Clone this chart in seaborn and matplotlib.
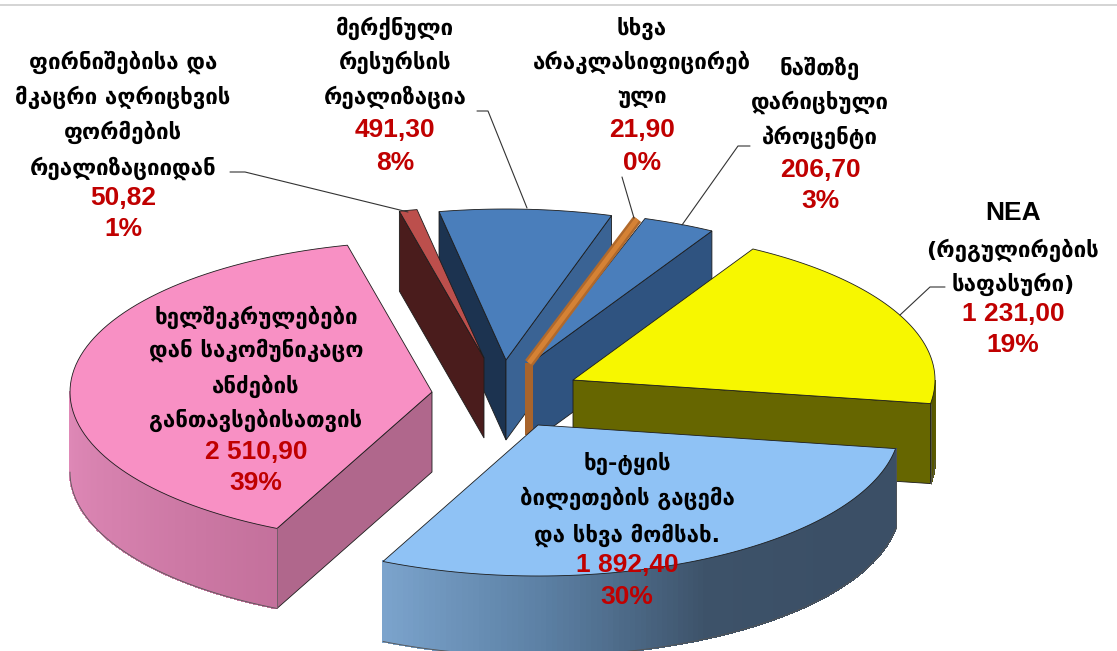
import numpy as np
import matplotlib
matplotlib.use("Agg")
import matplotlib.pyplot as plt
import seaborn as sns

# order is clockwise starting from the yellow slice
names = [
    ["NEA", "(რეგულირების", "საფასური)"],
    ["ხე-ტყის", "ბილეთების გაცემა", "და სხვა მომსახ."],
    ["ხელშეკრულებები", "დან საკომუნიკაცო", "ანძების", "განთავსებისათვის"],
    ["ფირნიშებისა და", "მკაცრი აღრიცხვის", "ფორმების", "რეალიზაციიდან"],
    ["მერქნული", "რესურსის", "რეალიზაცია"],
    ["სხვა", "არაკლასიფიცირებ", "ული"],
    ["ნაშთზე", "დარიცხული", "პროცენტი"],
]
values = [1231.00, 1892.40, 2510.90, 50.82, 491.30, 21.90, 206.70]
value_labels = ["1 231,00", "1 892,40", "2 510,90", "50,82", "491,30", "21,90", "206,70"]
pct_labels = ["19%", "30%", "39%", "1%", "8%", "0%", "3%"]

top_colors = ["#F7F700", "#8FC2F5", "#F890C4", "#BC4F4C", "#4A7EBB", "#D58235", "#4A7EBB"]

# pie geometry in pixels of the picture
R_X, R_Y, DEPTH = 362, 151, 80
START = 60.2
apex = [(573, 380), (538, 425), (432, 392), (484, 358), (506, 360), (525, 363), (532, 362)]

# label layout: x centre and y of each line
label_x = [1013, 627, 256, 123, 395, 642, 820]
label_y = [
    [213, 250, 284, 314, 345],
    [463, 498, 535, 565, 597],
    [317, 350, 386, 420, 452, 483],
    [62, 97, 132, 168, 198, 229],
    [28, 62, 97, 130, 163],
    [28, 62, 98, 130, 163],
    [68, 102, 137, 170, 201],
]
leaders = [
    [(945, 287), (930, 287), (900, 315)],
    [(230, 172), (245, 172), (408, 212)],
    [(477, 111), (488, 111), (527, 208)],
    [(622, 177), (634, 218)],
    [(750, 146), (738, 146), (682, 225)],
]

sns.set_theme(style="white")
plt.rcParams["font.family"] = ["DejaVu Sans"]

fig = plt.figure(figsize=(11.17, 6.51), dpi=100)
ax = fig.add_axes([0, 0, 1, 1])
ax.set_xlim(0, 1117)
ax.set_ylim(651, 0)
ax.axis("off")

EDGE = "#1c1c1c"


def punto(i, ang):
    return (apex[i][0] + R_X * np.cos(np.radians(ang)),
            apex[i][1] - R_Y * np.sin(np.radians(ang)))


def cara(i, ang, color):
    # flat cut face below one radius of the slice
    x0, y0 = apex[i]
    x1, y1 = punto(i, ang)
    ax.fill([x0, x1, x1, x0], [y0, y1, y1 + DEPTH, y0 + DEPTH],
            facecolor=color, edgecolor=EDGE, lw=0.6)


def pared(i, a1, a2, colores):
    # outer curved wall, cut in narrow strips to get the gradient
    angs = np.linspace(a1, a2, 120)
    pal = sns.blend_palette(colores, len(angs) - 1)
    xs, ys = punto(i, angs)
    for k in range(len(angs) - 1):
        ax.fill([xs[k], xs[k + 1], xs[k + 1], xs[k]],
                [ys[k], ys[k + 1], ys[k + 1] + DEPTH, ys[k] + DEPTH],
                facecolor=pal[k], edgecolor=pal[k], lw=0.8, antialiased=False)
    ax.plot(xs, ys + DEPTH, color="#555555", lw=0.6)
    ax.plot([xs[-1], xs[-1]], [ys[-1], ys[-1] + DEPTH], color="#555555", lw=0.5)


def tapa(i, a1, a2, color):
    angs = np.linspace(a1, a2, 80)
    xs, ys = punto(i, angs)
    ax.fill(np.r_[apex[i][0], xs], np.r_[apex[i][1], ys],
            facecolor=color, edgecolor=EDGE, lw=0.6)


spans = np.array(values) / sum(values) * 360
ends = START - np.cumsum(spans)
starts = ends + spans
YEL, BLU, PNK, RED, MID, ORG, SML = range(7)

# back to front
cara(MID, starts[MID], "#1C3350")
cara(MID, ends[MID], "#3A6394")
tapa(MID, starts[MID], ends[MID], top_colors[MID])

cara(RED, starts[RED], "#4A1C1C")
tapa(RED, starts[RED], ends[RED], top_colors[RED])

cara(SML, ends[SML], "#2F5380")
tapa(SML, starts[SML], ends[SML], top_colors[SML])

# the very thin slice: a vertical strip and a band along the radius
x0, y0 = apex[ORG]
xe, ye = punto(ORG, starts[ORG] - spans[ORG] / 2)
ax.fill([x0, x0 + 8, x0 + 8, x0], [y0, y0, y0 + DEPTH - 8, y0 + DEPTH - 8],
        facecolor="#A8642C", edgecolor="none")
ax.plot([x0 + 4, xe + 3], [y0, ye], color="#B0692C", lw=7, solid_capstyle="butt")
ax.plot([x0 + 4, xe + 3], [y0, ye], color=top_colors[ORG], lw=3.5, solid_capstyle="butt")

pared(YEL, 0, ends[YEL], ["#5E5E00", "#555500"])
cara(YEL, ends[YEL], "#666600")
tapa(YEL, starts[YEL], ends[YEL], top_colors[YEL])

cara(PNK, starts[PNK], "#B0678C")
pared(PNK, -180, starts[PNK], ["#E08AB8", "#D47FAC", "#C4719C"])
tapa(PNK, starts[PNK], ends[PNK], top_colors[PNK])

pared(BLU, ends[BLU], starts[BLU],
      ["#7BA3CC", "#5B7FA3", "#3D5269", "#3B4F66", "#3B4F66"])
tapa(BLU, starts[BLU], ends[BLU], top_colors[BLU])

for pts in leaders:
    ax.plot(*zip(*pts), color="#333333", lw=0.8)

# grey rule at the top of the screenshot
ax.plot([0, 1117], [5, 5], color="#D4D4D4", lw=1.4)

for i in range(len(values)):
    ys = label_y[i]
    for ln, y in zip(names[i], ys):
        if ln == "NEA":
            ax.text(label_x[i], y, ln, ha="center", va="center", fontsize=19,
                    fontweight="bold", family="Liberation Sans", color="black")
        else:
            ax.text(label_x[i], y, ln, ha="center", va="center", fontsize=16,
                    fontweight="bold", color="black")
    ax.text(label_x[i], ys[-2], value_labels[i], ha="center", va="center", fontsize=19,
            fontweight="bold", family="Liberation Sans", color="#C00000")
    ax.text(label_x[i], ys[-1], pct_labels[i], ha="center", va="center", fontsize=19,
            fontweight="bold", family="Liberation Sans", color="#C00000")

fig.savefig("out.png", dpi=100)
